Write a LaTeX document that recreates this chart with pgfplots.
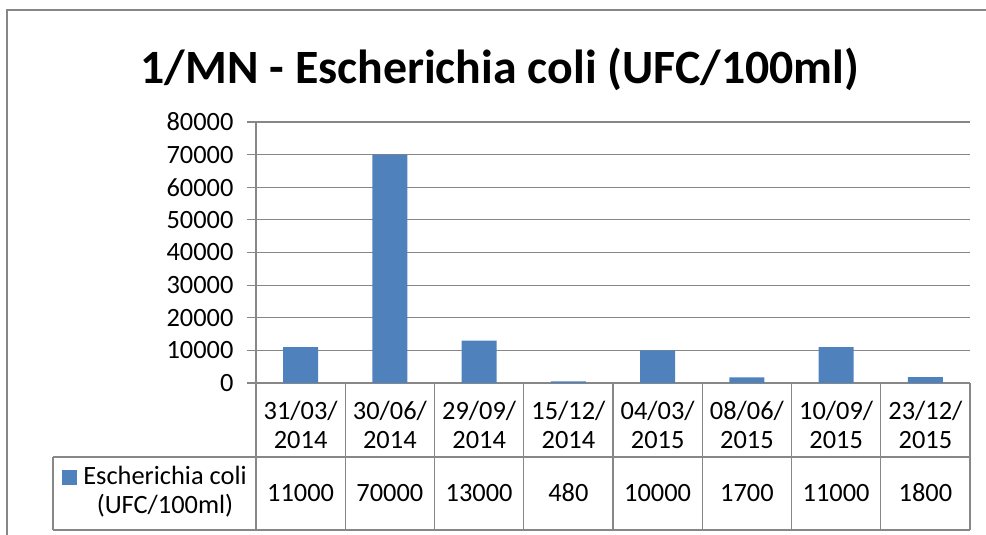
\documentclass[border=0pt]{standalone}
\usepackage{pgfplots}
\pgfplotsset{compat=1.18}
\usepackage{pgfplotstable}
\usepackage{fontspec}
\setmainfont{Carlito}
\definecolor{barblue}{HTML}{4F81BD}
\definecolor{gridgray}{HTML}{878787}
\pgfplotstableread{
x y
0 11000
1 70000
2 13000
3 480
4 10000
5 1700
6 11000
7 1800
}\data
\begin{document}
\begin{tikzpicture}[x=1bp,y=1bp]
\useasboundingbox (-256,-152) rectangle (730,383);
\draw[gridgray, line width=1.5bp] (-249,-160) -- (-249,373) -- (740,373);
\begin{axis}[at={(0,0)}, anchor=south west,
  scale only axis, width=714bp, height=261bp,
  xmin=-0.5, xmax=7.5, ymin=0, ymax=80000,
  ytick={0,10000,...,80000},
  xtick={0,...,7},
  xticklabels={{31/03/\\2014},{30/06/\\2014},{29/09/\\2014},{15/12/\\2014},{04/03/\\2015},{08/06/\\2015},{10/09/\\2015},{23/12/\\2015}},
  /pgf/number format/assume math mode=true,
  /pgf/number format/1000 sep={},
  scaled y ticks=false,
  ymajorgrids, grid style={gridgray, line width=1.1bp},
  axis x line*=bottom, axis y line*=left,
  axis line style={gridgray, line width=1.1bp, -},
  x axis line style={draw=none},
  ytick style={gridgray, line width=1.1bp},
  xtick style={draw=none},
  tick align=outside, major tick length=9bp,
  font=\fontsize{26.5}{29}\selectfont,
  yticklabel style={anchor=east, xshift=-10bp},
  xticklabel style={anchor=center, align=center, yshift=-33bp},
  clip=false,
]
\addplot[ybar, bar width=35bp, fill=barblue, draw=none] table[x=x, y=y] {\data};
\addplot[draw=none, mark=none, nodes near coords, point meta=explicit symbolic,
  nodes near coords style={anchor=center, yshift=-110bp, font=\fontsize{26.5}{29}\selectfont}]
  table[x=x, y expr=0, meta=y] {\data};
\end{axis}
\foreach \k in {0,...,8} {\draw[gridgray, line width=1.3bp] ({89.25*\k},0) -- ({89.25*\k},-147);}
\draw[gridgray, line width=1.3bp] (-203,-74) -- (714,-74);
\draw[gridgray, line width=1.3bp] (-203,-147) -- (714,-147);
\draw[gridgray, line width=1.3bp] (-203,-74) -- (-203,-147);
\fill[barblue] (-194,-102) rectangle (-179,-87);
\node[anchor=base, inner sep=0pt, font=\fontsize{26.5}{29}\selectfont] at (-91,-102) {Escherichia coli};
\node[anchor=base, inner sep=0pt, font=\fontsize{26.5}{29}\selectfont] at (-91,-131) {(UFC/100ml)};
\node[anchor=base, inner sep=0pt, font=\fontsize{48}{52}\selectfont\bfseries] at (244,299) {1/MN - Escherichia coli (UFC/100ml)};
\end{tikzpicture}
\end{document}
